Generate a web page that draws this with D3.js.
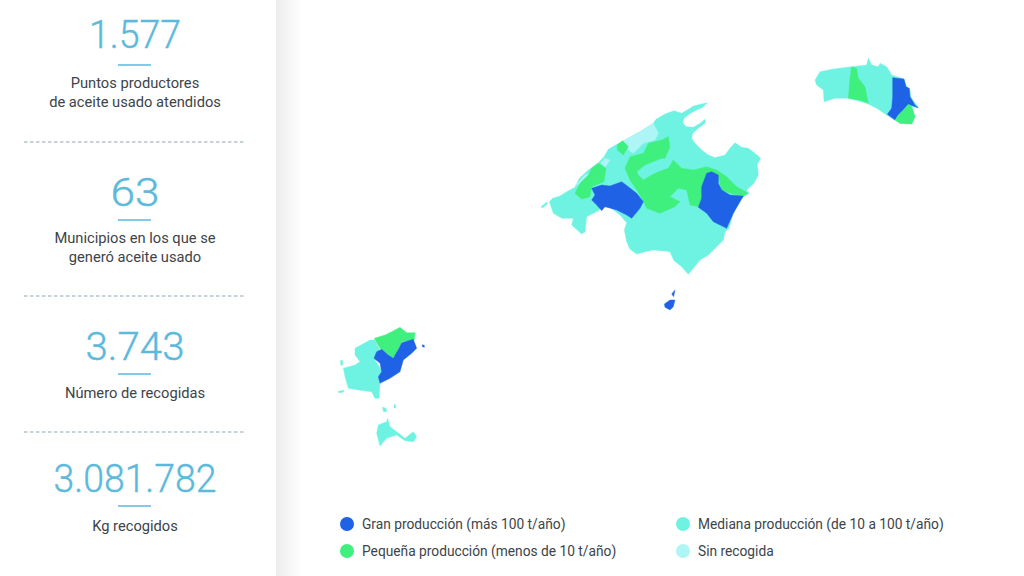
<!DOCTYPE html>
<html>
<head>
<meta charset="utf-8">
<script src="https://cdn.jsdelivr.net/npm/d3@7"></script>
<style>
  html, body { margin: 0; padding: 0; background: #fff; }
  svg { display: block; }
  text { font-family: Roboto, sans-serif; }
</style>
</head>
<body>
<script>
const w = 1024;
const h = 576;

// panel figures
const statValues = ["1.577", "63", "3.743", "3.081.782"];
const statLabels = [
  ["Puntos productores", "de aceite usado atendidos"],
  ["Municipios en los que se", "generó aceite usado"],
  ["Número de recogidas"],
  ["Kg recogidos"],
];

// legend
const categories = ["gran", "mediana", "pequena", "sin"];
const categoryNames = [
  "Gran producción (más 100 t/año)",
  "Mediana producción (de 10 a 100 t/año)",
  "Pequeña producción (menos de 10 t/año)",
  "Sin recogida",
];
const categoryColors = ["#1f62e6", "#6ef3e2", "#3ff07e", "#aef6f5"];

// map outlines. units are per-island sheet units
const mallorca = [
  ["mediana", [[58,335],[68,325],[90,318],[110,305],[135,292],[148,265],[175,240],[205,218],[222,200],[235,178],[262,162],[285,150],[330,125],[370,100],[378,88],[405,72],[432,62],[455,70],[475,58],[490,48],[515,42],[532,38],[518,52],[495,62],[478,72],[462,85],[458,98],[468,110],[490,112],[510,100],[525,88],[527,98],[505,115],[488,130],[485,145],[495,160],[515,180],[535,195],[555,203],[585,195],[600,175],[615,158],[635,172],[655,175],[675,190],[692,205],[682,222],[685,255],[672,280],[650,300],[657,310],[640,320],[622,345],[608,375],[597,415],[585,425],[580,450],[560,470],[535,495],[510,510],[490,535],[475,553],[455,530],[432,512],[420,485],[395,482],[370,480],[345,485],[320,492],[300,478],[290,455],[283,420],[290,398],[270,375],[240,352],[215,350],[205,362],[170,380],[165,425],[155,432],[125,405],[130,385],[95,385],[70,370]]],
  ["mediana", [[33,350],[50,336],[52,342],[38,354]]],
  ["sin", [[285,150],[330,125],[370,100],[385,130],[375,150],[340,160],[310,190],[295,180],[280,155]]],
  ["sin", [[135,288],[165,255],[178,250],[170,262],[150,280]]],
  ["sin", [[225,205],[240,210],[225,232],[212,218]]],
  ["pequena", [[262,165],[278,152],[295,170],[280,195],[262,180]]],
  ["pequena", [[205,220],[228,235],[222,275],[185,290],[180,320],[155,328],[135,310],[150,280],[175,255],[185,235]]],
  ["pequena", [[300,200],[340,190],[355,160],[395,150],[415,140],[420,170],[405,205],[395,205],[345,225],[320,245],[325,255],[340,270],[365,255],[385,245],[415,235],[430,210],[455,235],[490,240],[530,230],[560,240],[590,260],[620,290],[655,310],[640,318],[600,310],[575,300],[565,265],[540,360],[505,350],[480,345],[470,300],[445,295],[420,320],[450,335],[435,350],[390,370],[350,355],[335,325],[320,300],[300,270],[285,235]]],
  ["gran", [[185,295],[215,285],[240,288],[275,275],[295,290],[320,310],[340,335],[330,355],[305,385],[290,375],[260,360],[225,350],[215,362],[200,345],[185,330],[195,315]]],
  ["gran", [[530,250],[545,245],[565,255],[565,280],[575,300],[600,315],[640,318],[610,370],[590,415],[550,395],[530,370],[505,352],[515,325],[515,290]]],
  ["gran", [[403,642],[420,630],[435,630],[430,650],[420,660],[405,652]]],
  ["gran", [[425,612],[435,600],[431,620]]],
];
const menorca = [
  ["mediana", [[45,75],[60,50],[100,42],[155,35],[200,30],[205,10],[215,30],[235,35],[240,25],[260,35],[275,60],[312,72],[320,95],[330,105],[332,125],[355,158],[335,155],[345,185],[335,207],[300,205],[260,180],[230,160],[200,145],[145,130],[105,130],[72,140],[70,105],[50,90]]],
  ["pequena", [[155,35],[170,40],[175,70],[195,95],[205,145],[180,135],[145,130],[150,70]]],
  ["gran", [[278,68],[312,72],[318,95],[328,100],[330,125],[345,150],[355,158],[325,148],[310,165],[295,180],[285,195],[262,178],[275,160],[278,125]]],
  ["pequena", [[325,148],[335,155],[345,185],[335,207],[300,205],[285,195],[295,180],[310,165]]],
];
const ibiza = [
  ["mediana", [[90,85],[135,60],[150,60],[165,90],[150,120],[175,160],[165,190],[162,235],[150,235],[140,215],[100,210],[70,205],[60,170],[55,145],[90,135],[105,125],[90,105]]],
  ["mediana", [[46,122],[52,120],[54,135],[48,136]]],
  ["mediana", [[40,214],[56,211],[56,216],[42,219]]],
  ["mediana", [[172,262],[182,264],[186,274],[176,276]]],
  ["mediana", [[207,254],[212,254],[212,264],[207,264]]],
  ["mediana", [[160,315],[185,305],[188,295],[195,320],[215,335],[240,355],[265,335],[275,350],[265,365],[240,362],[215,345],[185,355],[165,378],[155,340]]],
  ["pequena", [[148,55],[180,45],[200,35],[225,22],[245,38],[270,38],[268,60],[230,65],[215,100],[205,115],[185,100],[165,85]]],
  ["gran", [[155,95],[170,88],[190,105],[205,115],[222,85],[230,68],[265,58],[275,85],[260,100],[235,120],[225,155],[195,175],[165,190],[160,170],[170,155],[165,130],[147,115]]],
  ["gran", [[292,74],[298,76],[298,82],[292,80]]],
];

const svg = d3.select("body").append("svg").attr("width", w).attr("height", h);

const color = d3.scaleOrdinal().domain(categories).range(categoryColors);

// soft shadow right of the panel
const defs = svg.append("defs");
const shade = defs.append("linearGradient").attr("id", "shade");
shade.append("stop").attr("offset", 0).attr("stop-color", "#ececec");
shade.append("stop").attr("offset", 1).attr("stop-color", "#ffffff");
svg.append("rect").attr("x", 276).attr("y", 0).attr("width", 26).attr("height", h).attr("fill", "url(#shade)");

// left panel
const statCenter = 135;
const statBase = [48, 206, 360, 492];
const statWidth = [92, 49, 99, 163];
const ruleY = [65, 220, 374, 506];
const labelY = [88, 243, 398, 531];
const dashY = [142, 296, 432];
const blue = "#5bb9dc";

const stats = svg.selectAll("g.stat").data(statValues).enter().append("g").attr("class", "stat");

stats
  .append("text")
  .attr("x", statCenter)
  .attr("y", (d, i) => statBase[i])
  .attr("text-anchor", "middle")
  .attr("textLength", (d, i) => statWidth[i])
  .attr("lengthAdjust", "spacingAndGlyphs")
  .style("font-size", "38px")
  .style("font-weight", 300)
  .style("fill", blue)
  .style("stroke", blue)
  .style("stroke-width", 0.4)
  .text((d) => d);

stats
  .append("line")
  .attr("x1", statCenter - 17)
  .attr("x2", statCenter + 16)
  .attr("y1", (d, i) => ruleY[i])
  .attr("y2", (d, i) => ruleY[i])
  .style("stroke", blue)
  .style("stroke-width", 1.6);

stats.each(function (d, i) {
  d3.select(this)
    .selectAll("text.label")
    .data(statLabels[i])
    .enter()
    .append("text")
    .attr("class", "label")
    .attr("x", statCenter)
    .attr("y", (t, j) => labelY[i] + j * 18.5)
    .attr("text-anchor", "middle")
    .style("font-size", "14.7px")
    .style("fill", "#3c4449")
    .text((t) => t);
});

svg
  .selectAll("line.dash")
  .data(dashY)
  .enter()
  .append("line")
  .attr("class", "dash")
  .attr("x1", 24)
  .attr("x2", 245)
  .attr("y1", (d) => d)
  .attr("y2", (d) => d)
  .style("stroke", "#8ea7b0")
  .style("stroke-width", 1)
  .style("stroke-dasharray", "3.5 2.5");

// one pair of scales per island sheet
const drawIsland = function (regions, left, top) {
  const x = d3.scaleLinear().domain([0, 3]).range([left, left + 1]);
  const y = d3.scaleLinear().domain([0, 3]).range([top, top + 1]);
  const line = d3
    .line()
    .x((d) => x(d[0]))
    .y((d) => y(d[1]))
    .curve(d3.curveLinearClosed);
  svg
    .append("g")
    .selectAll("path")
    .data(regions)
    .enter()
    .append("path")
    .attr("d", (d) => line(d[1]))
    .style("fill", (d) => color(d[0]))
    .style("stroke", (d) => color(d[0]))
    .style("stroke-width", 0.4);
};

drawIsland(mallorca, 530, 90);
drawIsland(menorca, 800, 55);
drawIsland(ibiza, 325, 320);

// legend, two columns
const legendX = [347, 683, 347, 683];
const legendY = [524, 524, 551, 551];
const legend = svg.selectAll("g.legend").data(categories).enter().append("g").attr("class", "legend");

legend
  .append("circle")
  .attr("cx", (d, i) => legendX[i])
  .attr("cy", (d, i) => legendY[i])
  .attr("r", 7)
  .style("fill", (d) => color(d));

legend
  .append("text")
  .attr("x", (d, i) => legendX[i] + 15)
  .attr("y", (d, i) => legendY[i] + 5)
  .style("font-size", "13.75px")
  .style("fill", "#3c4449")
  .text((d, i) => categoryNames[i]);
</script>
</body>
</html>
